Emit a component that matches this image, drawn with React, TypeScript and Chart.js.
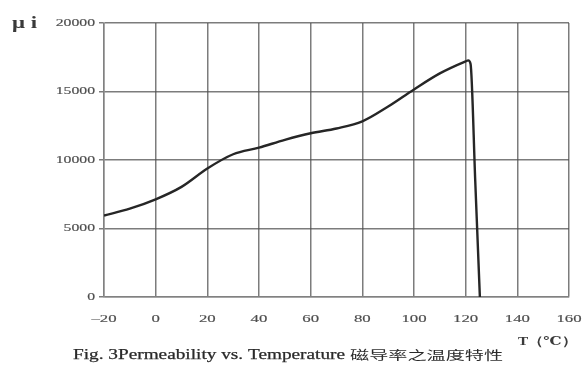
import React, { useEffect, useRef } from "react";
import { Chart, registerables } from "chart.js";

Chart.register(...registerables);

// Temperature (°C) and initial permeability μi
const temps = [-20, -10, 0, 10, 20, 30, 40, 50, 60, 70, 80, 90, 100, 110, 120, 121, 121.9, 123.7, 125.5];
const mu = [5950, 6450, 7130, 8040, 9380, 10420, 10900, 11470, 11950, 12300, 12820, 13900, 15150, 16320, 17200, 17270, 17000, 8500, 0];

const xMin = -20;
const xMax = 160;
const xStep = 20;
const yMin = 0;
const yMax = 20000;
const yStep = 5000;

const yAxisLabel = "μ i";
const xAxisLabel = "T（℃）";
const captionLatin = "Fig. 3Permeability vs. Temperature";
const captionCjk = "磁导率之温度特性";

const SERIF = "'Liberation Serif', 'DejaVu Serif', serif";
const CJK = "'Noto Sans CJK SC', 'Noto Sans CJK JP', sans-serif";

// draws text stretched horizontally by sx
function drawWide(
  ctx: CanvasRenderingContext2D,
  text: string,
  x: number,
  y: number,
  font: string,
  sx: number,
  align: "left" | "right" | "center",
  color: string,
  stroke = 0
) {
  ctx.save();
  ctx.font = font;
  ctx.fillStyle = color;
  ctx.strokeStyle = color;
  ctx.textBaseline = "middle";
  const w = ctx.measureText(text).width * sx;
  let left = x;
  if (align === "right") left = x - w;
  if (align === "center") left = x - w / 2;
  ctx.translate(left, y);
  ctx.scale(sx, 1);
  ctx.textAlign = "left";
  ctx.fillText(text, 0, 0);
  if (stroke > 0) {
    ctx.lineWidth = stroke;
    ctx.strokeText(text, 0, 0);
  }
  ctx.restore();
}

// draws text stretched to span x0..x1
function fitWide(
  ctx: CanvasRenderingContext2D,
  text: string,
  x0: number,
  x1: number,
  y: number,
  font: string,
  color: string,
  stroke = 0
) {
  ctx.save();
  ctx.font = font;
  const w = ctx.measureText(text).width;
  ctx.restore();
  drawWide(ctx, text, x0, y, font, (x1 - x0) / w, "left", color, stroke);
}

const labelsPlugin = {
  id: "stretchedLabels",
  afterDraw(chart: any) {
    const ctx: CanvasRenderingContext2D = chart.ctx;
    const xs = chart.scales.x;
    const ys = chart.scales.y;
    const tickFont = `10.5px ${SERIF}`;
    const tickColor = "#4d4d4d";

    ys.ticks.forEach((t: any) => {
      const py = ys.getPixelForValue(t.value);
      drawWide(ctx, String(t.value), chart.chartArea.left - 9, py, tickFont, 1.5, "right", tickColor, 0.15);
    });
    xs.ticks.forEach((t: any) => {
      const px = xs.getPixelForValue(t.value);
      const s = t.value < 0 ? "–" + Math.abs(t.value) : String(t.value);
      drawWide(ctx, s, px, chart.chartArea.bottom + 22, tickFont, 1.6, "center", tickColor, 0.15);
    });

    fitWide(ctx, yAxisLabel, 12, 37, 24, `bold 16px ${SERIF}`, "#3a3a3a");
    fitWide(ctx, xAxisLabel, 518, 577, 342, `bold 12px ${SERIF}`, "#3a3a3a");
    fitWide(ctx, captionLatin, 73, 345, 355, `14px ${SERIF}`, "#2a2a2a", 0.25);
    fitWide(ctx, captionCjk, 350, 503, 355, `12px ${CJK}`, "#2a2a2a");
  },
};

export default function App() {
  const ref = useRef<HTMLCanvasElement>(null);

  useEffect(() => {
    if (!ref.current) return;
    const points = temps.map((t, i) => ({ x: t, y: mu[i] }));
    const chart = new Chart(ref.current, {
      type: "line",
      data: {
        datasets: [
          {
            data: points,
            borderColor: "#262626",
            borderWidth: 2.4,
            pointRadius: 0,
            cubicInterpolationMode: "monotone",
            fill: false,
          },
        ],
      },
      options: {
        responsive: false,
        animation: false,
        events: [],
        layout: { padding: { left: 99, right: 16, top: 23, bottom: 71 } },
        plugins: { legend: { display: false }, tooltip: { enabled: false } },
        scales: {
          x: {
            type: "linear",
            min: xMin,
            max: xMax,
            ticks: { display: false, stepSize: xStep },
            grid: { color: "rgba(80,80,80,0.75)", lineWidth: 1.5, drawTicks: false },
            border: { display: true, color: "rgba(130,130,130,0.8)", width: 1.5 },
          },
          y: {
            min: yMin,
            max: yMax,
            ticks: { display: false, stepSize: yStep },
            grid: { color: "rgba(80,80,80,0.75)", lineWidth: 1.5, drawTicks: true, tickLength: 5 },
            border: { display: true, color: "rgba(130,130,130,0.8)", width: 1.5 },
          },
        },
      },
      plugins: [labelsPlugin],
    });
    return () => chart.destroy();
  }, []);

  return (
    <div style={{ position: "fixed", left: 0, top: 0, width: 585, height: 368, background: "#fff" }}>
      <canvas ref={ref} width={585} height={368} />
    </div>
  );
}
